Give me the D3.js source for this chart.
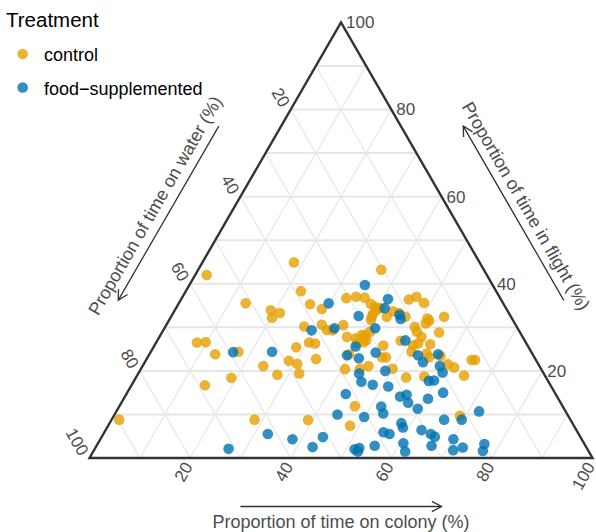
<!DOCTYPE html>
<html><head><meta charset="utf-8">
<script src="https://cdn.jsdelivr.net/npm/d3@7"></script>
<style>body{margin:0;background:#fff}svg{display:block}text{font-family:"Liberation Sans",Arial,Helvetica,sans-serif}</style>
</head><body><svg id="chart" width="596" height="532"></svg>
<script>
const groups = ["control", "food\u2212supplemented"];
const groupColors = ["#E69F00", "#0072B2"];
const legendTitle = "Treatment";
const axisTicks = [20, 40, 60, 80, 100];
const gridLevels = [10, 20, 30, 40, 50, 60, 70, 80, 90];
const colonyTitle = "Proportion of time on colony (%)";
const waterTitle = "Proportion of time on water (%)";
const flightTitle = "Proportion of time in flight (%)";

// control group (percent of time)
const controlColony = [2.3,18.2,36.4,13.3,8.1,9.8,13.1,17.4,19.0,14.6,1.5,28.4,24.0,22.9,26.2,29.1,19.1,21.2,20.2,27.6,30.9,32.5,33.7,30.4,31.7,28.4,33.7,28.5,30.5,32.0,27.8,39.1,32.7,34.5,36.3,38.2,40.1,39.8,40.6,39.4,43.5,42.9,39.9,40.1,35.2,41.3,37.3,39.2,40.0,41.5,40.7,40.0,41.2,48.4,45.5,39.7,46.6,47.4,44.9,43.5,50.0,40.6,46.8,48.1,45.3,46.5,48.7,46.6,51.2,51.4,51.8,54.3,49.6,50.6,52.1,55.1,51.4,52.2,54.7,51.8,55.0,56.0,58.1,60.5,62.1,64.7,65.4,65.0,53.7,57.2,68.8,44.9];
const controlFlight = [42.0,44.9,43.2,35.5,26.5,26.6,23.8,24.4,18.4,16.7,8.8,8.8,21.1,38.3,35.3,34.2,33.9,33.3,32.2,30.2,30.6,29.4,29.3,26.5,26.3,25.4,22.7,22.3,21.6,19.4,19.1,8.7,36.7,37.0,36.8,35.4,34.0,33.2,34.4,34.7,33.7,32.4,32.4,31.7,30.5,29.0,27.8,27.5,28.2,27.1,28.2,26.3,26.6,26.9,25.8,23.8,23.1,23.1,21.1,20.5,20.5,20.4,11.9,7.4,36.4,37.0,35.6,32.4,32.0,30.9,31.5,32.4,30.1,29.0,27.8,28.8,25.9,26.3,26.1,24.4,24.0,23.1,23.4,21.5,20.8,22.5,22.5,18.9,18.5,18.7,9.7,33.3];
const controlWater = [55.7,36.9,20.4,51.2,65.4,63.6,63.1,58.2,62.6,68.7,89.7,62.8,54.9,38.8,38.5,36.7,47.0,45.5,47.6,42.2,38.5,38.1,37.0,43.1,42.0,46.2,43.6,49.2,47.9,48.6,53.1,52.2,30.6,28.5,26.9,26.4,25.9,27.0,25.0,25.9,22.8,24.7,27.7,28.2,34.3,29.7,34.9,33.3,31.8,31.4,31.1,33.7,32.2,24.7,28.7,36.5,30.3,29.5,34.0,36.0,29.5,39.0,41.3,44.5,18.3,16.5,15.7,21.0,16.8,17.7,16.7,13.3,20.3,20.4,20.1,16.1,22.7,21.5,19.2,23.8,21.0,20.9,18.5,18.0,17.1,12.8,12.1,16.1,27.8,24.1,21.5,21.8];

// food-supplemented group (percent of time)
const fedColony = [16.4,26.6,24.1,32.7,38.2,44.0,43.1,29.8,29.5,33.8,44.3,34.9,41.1,41.5,45.2,45.9,37.2,41.9,49.3,40.1,44.8,39.4,42.1,48.8,43.9,45.3,47.9,51.2,54.7,55.8,57.0,43.6,52.1,53.3,49.9,58.0,58.8,55.5,56.9,60.7,62.0,55.3,51.7,52.5,52.6,53.5,57.4,55.3,59.1,60.4,58.6,59.6,62.8,60.5,59.6,72.1,69.6,66.1,62.8,65.1,66.2,70.2,66.6,71.4,73.0,76.9,77.4];
const fedFlight = [24.3,2.1,24.4,5.5,4.3,4.8,2.5,35.5,29.3,29.8,10.0,39.7,36.5,34.4,32.9,31.9,32.6,29.8,27.0,25.6,24.2,23.6,22.9,20.0,19.4,17.5,16.8,16.4,14.1,14.5,12.7,14.7,11.8,10.2,9.4,8.0,7.0,5.9,5.5,3.4,1.5,2.8,2.0,2.3,1.5,23.6,23.8,22.0,21.1,19.6,17.7,17.8,15.0,13.6,11.3,10.7,8.8,8.8,6.4,5.5,4.9,4.3,2.8,1.8,2.4,3.2,1.6];
const fedWater = [59.3,71.3,51.5,61.8,57.5,51.2,54.4,34.7,41.2,36.4,45.7,25.4,22.4,24.1,21.9,22.2,30.2,28.3,23.7,34.3,31.0,37.0,35.0,31.2,36.7,37.2,35.3,32.4,31.2,29.7,30.3,41.7,36.1,36.5,40.7,34.0,34.2,38.6,37.6,35.9,36.5,41.9,46.3,45.2,45.9,22.9,18.8,22.7,19.8,20.0,23.7,22.6,22.2,25.9,29.1,17.2,21.6,25.1,30.8,29.4,28.9,25.5,30.6,26.8,24.6,19.9,21.0];

const svg = d3.select("#chart");
const leftX = 89.5, rightX = 592.5, baseY = 458;
const sideLen = rightX - leftX;
const topY = baseY - sideLen * Math.sqrt(3) / 2;

// scales: horizontal position (colony + flight/2) and vertical (flight)
const xScale = d3.scaleLinear().domain([0, 100]).range([leftX, rightX]);
const yScale = d3.scaleLinear().domain([0, 100]).range([baseY, topY]);
function proj(c, f) { return [xScale(c + f / 2), yScale(f)]; }
function norm(c, f, w) { const s = c + f + w; return [100 * c / s, 100 * f / s]; }

const gridG = svg.append("g");
const gridColor = "#e6e6e6";
gridLevels.forEach(v => {
  const lines = [
    [proj(0, v), proj(100 - v, v), 2],
    [proj(v, 0), proj(v, 100 - v), 1.2],
    [proj(100 - v, 0), proj(0, 100 - v), 1.2]
  ];
  lines.forEach(([a, b, w]) => {
    gridG.append("line").attr("x1", a[0]).attr("y1", a[1]).attr("x2", b[0]).attr("y2", b[1])
      .attr("stroke", gridColor).attr("stroke-width", w);
  });
});

// points
const data = [];
controlColony.forEach((c, i) => data.push({g: 0, p: norm(c, controlFlight[i], controlWater[i])}));
fedColony.forEach((c, i) => data.push({g: 1, p: norm(c, fedFlight[i], fedWater[i])}));
svg.append("g").selectAll("circle").data(data).join("circle")
  .attr("cx", d => proj(d.p[0], d.p[1])[0])
  .attr("cy", d => proj(d.p[0], d.p[1])[1])
  .attr("r", 5.3)
  .attr("fill", d => groupColors[d.g])
  .attr("fill-opacity", 0.8);

// triangle border
const tri = [proj(0, 0), proj(100, 0), proj(0, 100)];
svg.append("path").attr("d", "M" + tri.map(p => p.join(",")).join("L") + "Z")
  .attr("fill", "none").attr("stroke", "#333").attr("stroke-width", 2.4).attr("stroke-linejoin", "miter");

const tickColor = "#4d4d4d";
const tickSize = 17;
axisTicks.forEach(v => {
  const p = proj(v, 0);
  svg.append("text").attr("transform", `translate(${p[0]},${p[1]}) rotate(-60)`)
    .attr("x", -6).attr("y", 1).attr("dy", "0.35em").attr("text-anchor", "end")
    .attr("font-size", tickSize).attr("fill", tickColor).text(v);
});
axisTicks.forEach(v => {
  const p = proj(0, 100 - v);
  svg.append("text").attr("transform", `translate(${p[0]},${p[1]}) rotate(60)`)
    .attr("x", -6).attr("y", 2.5).attr("dy", "0.35em").attr("text-anchor", "end")
    .attr("font-size", tickSize).attr("fill", tickColor).text(v);
});
axisTicks.forEach(v => {
  const p = proj(100 - v, v);
  svg.append("text").attr("x", p[0] + 5).attr("y", p[1]).attr("dy", "0.35em")
    .attr("font-size", tickSize).attr("fill", tickColor).text(v);
});

const s3 = Math.sqrt(3) / 2;
function bottomPt(t, off) { const p = proj(100 * t, 0); return [p[0], p[1] + off]; }
function leftPt(t, off) { const p = proj(0, 100 * t); return [p[0] - s3 * off, p[1] - 0.5 * off]; }
function rightPt(t, off) { const p = proj(100 * (1 - t), 100 * t); return [p[0] + s3 * off, p[1] - 0.5 * off]; }

function arrow(a, b) {
  const dx = b[0] - a[0], dy = b[1] - a[1], L = Math.hypot(dx, dy);
  const ux = dx / L, uy = dy / L, hl = 11, ang = 28 * Math.PI / 180;
  const h1 = [b[0] - hl * (ux * Math.cos(ang) - uy * Math.sin(ang)), b[1] - hl * (uy * Math.cos(ang) + ux * Math.sin(ang))];
  const h2 = [b[0] - hl * (ux * Math.cos(ang) + uy * Math.sin(ang)), b[1] - hl * (uy * Math.cos(ang) - ux * Math.sin(ang))];
  svg.append("path").attr("d", `M${a}L${b}M${h1}L${b}L${h2}`)
    .attr("fill", "none").attr("stroke", "#333").attr("stroke-width", 1.3);
}
arrow(bottomPt(0.3, 48.5), bottomPt(0.7, 48.5));
arrow(leftPt(0.7, 54), leftPt(0.3, 54));
arrow(rightPt(0.3, 54), rightPt(0.7, 54));

const titleSize = 18, titleColor = "#4d4d4d";
const bt = bottomPt(0.5, 63.5);
svg.append("text").attr("x", bt[0]).attr("y", bt[1]).attr("dy", "0.35em").attr("text-anchor", "middle")
  .attr("font-size", titleSize).attr("fill", titleColor).text(colonyTitle);
const lt = leftPt(0.5, 69.5);
svg.append("text").attr("transform", `translate(${lt[0]},${lt[1]}) rotate(-60)`).attr("dy", "0.35em")
  .attr("text-anchor", "middle").attr("font-size", titleSize).attr("fill", titleColor).text(waterTitle);
const rt = rightPt(0.5, 68.5);
svg.append("text").attr("transform", `translate(${rt[0]},${rt[1]}) rotate(60)`).attr("dy", "0.35em")
  .attr("text-anchor", "middle").attr("font-size", titleSize).attr("fill", titleColor).text(flightTitle);

const lg = svg.append("g");
lg.append("text").attr("x", 6).attr("y", 27).attr("font-size", 20.5).attr("fill", "#000").text(legendTitle);
groups.forEach((g, i) => {
  const cy = 54 + i * 33.5;
  lg.append("circle").attr("cx", 22.7).attr("cy", cy).attr("r", 5.3)
    .attr("fill", groupColors[i]).attr("fill-opacity", 0.8);
  lg.append("text").attr("x", 44).attr("y", cy + 7).attr("font-size", 18).attr("fill", "#000").text(g);
});
</script></body></html>
